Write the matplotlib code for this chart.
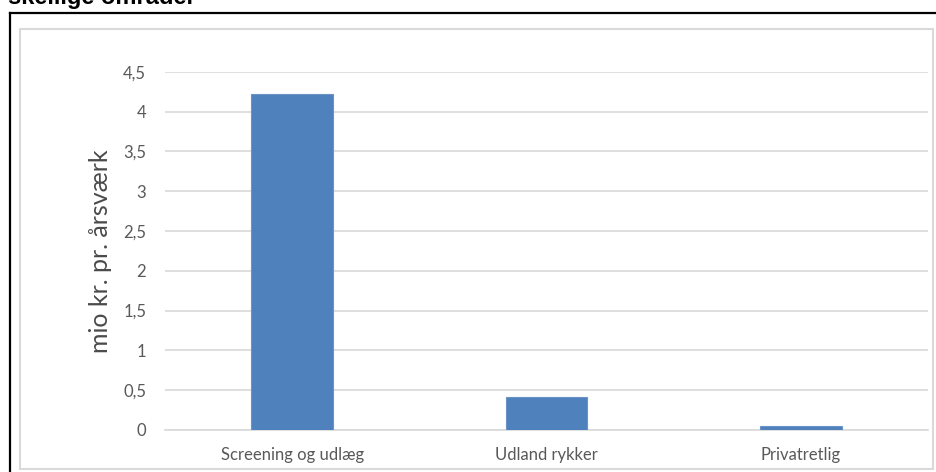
import matplotlib
matplotlib.use("Agg")
import matplotlib.pyplot as plt
from matplotlib.lines import Line2D
from matplotlib.patches import Rectangle

categories = ["Screening og udlæg", "Udland rykker", "Privatretlig"]
values = [4.22, 0.41, 0.055]
yticks = [0, 0.5, 1, 1.5, 2, 2.5, 3, 3.5, 4, 4.5]
ytick_labels = ["0", "0,5", "1", "1,5", "2", "2,5", "3", "3,5", "4", "4,5"]
ylabel = "mio kr. pr. årsværk"
title_fragment = "skellige områder"

W, H = 936, 472
fig = plt.figure(figsize=(W / 100, H / 100), dpi=100)

def fx(x):
    return x / W

def fy(y):
    return 1 - y / H

ax = fig.add_axes([fx(165), fy(430), fx(928) - fx(165), fy(71.7) - fy(430)])
x = range(len(categories))
ax.bar(x, values, width=0.32, color="#4F81BD", edgecolor="#6A93C6", linewidth=0.8, zorder=3)
ax.set_xlim(-0.5, 2.5)
ax.set_ylim(0, 4.5)
ax.set_yticks(yticks)
ax.set_yticklabels(ytick_labels)
ax.set_xticks(list(x))
ax.set_xticklabels(categories)
ax.grid(axis="y", color="#D9D9D9", linewidth=1.2, zorder=0)
for s in ["left", "right", "top"]:
    ax.spines[s].set_visible(False)
ax.spines["bottom"].set_color("#D9D9D9")
ax.spines["bottom"].set_linewidth(1.2)
ax.tick_params(axis="both", length=0, colors="#595959", labelsize=12)
ax.tick_params(axis="y", pad=13.5)
ax.tick_params(axis="x", pad=12)
for lab in ax.get_xticklabels() + ax.get_yticklabels():
    lab.set_fontfamily("Lato")
ax.set_ylabel(ylabel, fontsize=18, color="#4A4A4A", family="Lato", labelpad=8)

# chart area border (light gray)
fig.patches.append(Rectangle((fx(20), fy(469)), fx(933) - fx(20), fy(29) - fy(469),
                             transform=fig.transFigure, fill=False,
                             edgecolor="#D9D9D9", linewidth=1.5))
# outer black frame (left and top)
fig.lines.append(Line2D([fx(10), fx(10)], [fy(12.5), 0], transform=fig.transFigure,
                        color="black", linewidth=1.6))
fig.lines.append(Line2D([fx(10), 1], [fy(12.5), fy(12.5)], transform=fig.transFigure,
                        color="black", linewidth=1.6))

# cut-off title
fig.text(fx(8), fy(4), title_fragment, fontsize=17, fontweight="bold",
         family="Liberation Sans", ha="left", va="baseline")

fig.savefig("out.png", dpi=100)
